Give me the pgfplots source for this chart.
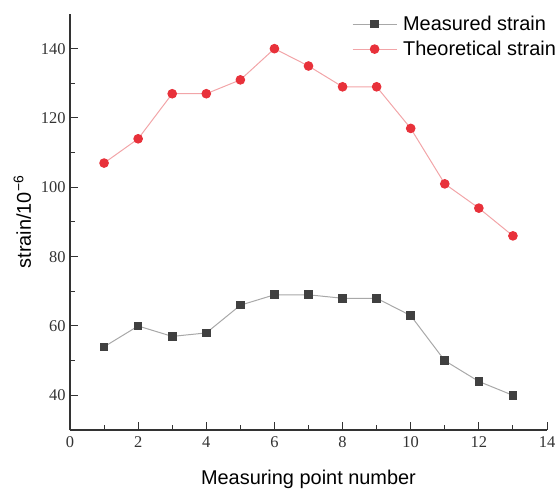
\documentclass[border=0pt]{standalone}
\usepackage{fontspec}
\setmainfont{Liberation Serif}
\newfontfamily\arialfont{Liberation Sans}
\usepackage{pgfplots}
\pgfplotsset{compat=1.18}
\definecolor{meascol}{HTML}{404040}
\definecolor{measline}{HTML}{A8A8A8}
\definecolor{theocol}{HTML}{E8313A}
\definecolor{theoline}{HTML}{F2A5A8}
\definecolor{axcol}{HTML}{333333}
\begin{document}
\begin{tikzpicture}
\begin{axis}[
  scale only axis,
  width=477bp, height=416bp,
  xmin=0, xmax=14, ymin=30, ymax=150,
  xtick={0,2,...,14}, ytick={40,60,...,140},
  minor x tick num=1, minor y tick num=1,
  axis x line*=bottom, axis y line*=left,
  axis line style={-, draw=axcol, line width=1.1bp},
  tick align=inside,
  major tick length=8bp, minor tick length=5bp,
  every tick/.style={draw=axcol, line width=1bp},
  /pgf/number format/assume math mode=true,
  tick label style={font=\fontsize{16.5}{19}\selectfont, text=axcol},
  xticklabel style={yshift=-3bp},
  yticklabel style={xshift=-1bp},
  xlabel={Measuring point number},
  ylabel={strain/10\textsuperscript{−6}},
  label style={font=\arialfont\fontsize{20}{24}\selectfont},
  xlabel style={at={(axis description cs:0.5,-0.1322)}, anchor=base},
  ylabel style={at={(axis description cs:-0.1,0.5)}, anchor=center},
  legend image code/.code={\draw[mark repeat=2,mark phase=2,#1] plot coordinates {(0bp,0bp) (22bp,0bp) (44bp,0bp)};},
  legend style={at={(axis description cs:0.591,1.0)}, anchor=north west, draw=none, fill=none,
    font=\arialfont\fontsize{20}{24}\selectfont, inner sep=0pt, row sep=5bp,
    nodes={inner sep=2bp},
    /tikz/every odd column/.append style={column sep=4bp}},
  legend cell align=left,
  clip=false,
]
\addplot[color=measline, line width=1bp, mark=square*, mark size=3.8bp,
  mark options={draw=meascol, fill=meascol}] coordinates {
  (1,54) (2,60) (3,57) (4,58) (5,66) (6,69) (7,69) (8,68) (9,68) (10,63) (11,50) (12,44) (13,40)};
\addlegendentry{Measured strain}
\addplot[color=theoline, line width=1bp, mark=*, mark size=4.3bp,
  mark options={draw=theocol, fill=theocol}] coordinates {
  (1,107) (2,114) (3,127) (4,127) (5,131) (6,140) (7,135) (8,129) (9,129) (10,117) (11,101) (12,94) (13,86)};
\addlegendentry{Theoretical strain}
\end{axis}
\pgfresetboundingbox
\path[use as bounding box] (-70bp,-61bp) rectangle (487bp,430bp);
\end{tikzpicture}
\end{document}
